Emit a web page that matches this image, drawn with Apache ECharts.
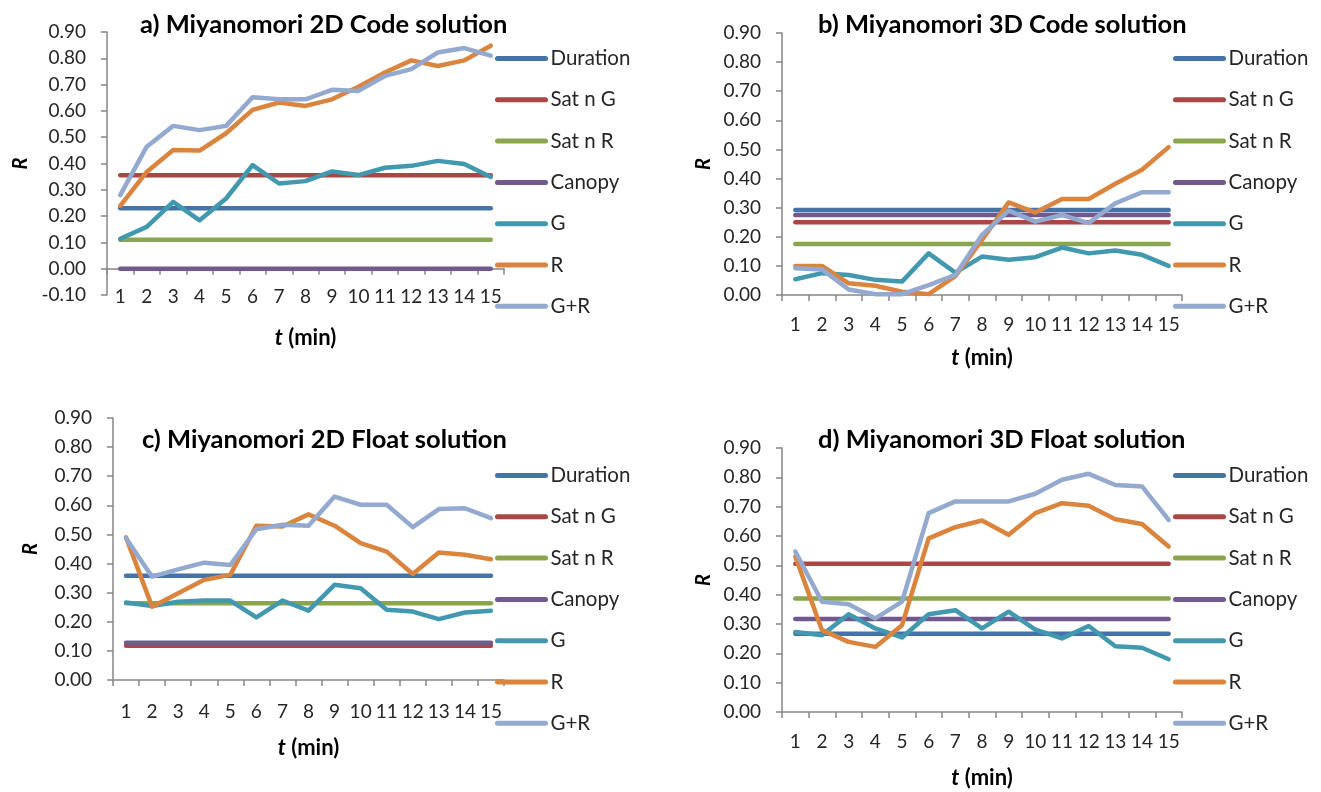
<!DOCTYPE html>
<html><head><meta charset="utf-8">
<script src="https://cdn.jsdelivr.net/npm/echarts@6/dist/echarts.min.js"></script>
<style>html,body{margin:0;padding:0;background:#fff}#c{width:1321px;height:792px}</style>
</head><body><div id="c"></div>
<script>
// ---------- data ----------
const categories = ['1','2','3','4','5','6','7','8','9','10','11','12','13','14','15'];
const seriesNames = ['Duration','Sat n G','Sat n R','Canopy','G','R','G+R'];
const panelTitles = ['a) Miyanomori 2D Code solution','b) Miyanomori 3D Code solution','c) Miyanomori 2D Float solution','d) Miyanomori 3D Float solution'];
const yAxisName = 'R';
const xAxisName = '{t|t} (min)';

// a) 2D Code
const aDuration = [0.23,0.23,0.23,0.23,0.23,0.23,0.23,0.23,0.23,0.23,0.23,0.23,0.23,0.23,0.23];
const aSatG     = [0.355,0.355,0.355,0.355,0.355,0.355,0.355,0.355,0.355,0.355,0.355,0.355,0.355,0.355,0.355];
const aSatR     = [0.11,0.11,0.11,0.11,0.11,0.11,0.11,0.11,0.11,0.11,0.11,0.11,0.11,0.11,0.11];
const aCanopy   = [0,0,0,0,0,0,0,0,0,0,0,0,0,0,0];
const aG        = [0.114,0.159,0.254,0.184,0.267,0.394,0.324,0.333,0.370,0.356,0.384,0.391,0.410,0.398,0.349];
const aR        = [0.239,0.368,0.451,0.449,0.515,0.604,0.632,0.619,0.644,0.692,0.746,0.792,0.771,0.792,0.848];
const aGR       = [0.280,0.464,0.543,0.527,0.543,0.652,0.644,0.644,0.680,0.676,0.733,0.759,0.822,0.839,0.810];

// b) 3D Code
const bDuration = [0.292,0.292,0.292,0.292,0.292,0.292,0.292,0.292,0.292,0.292,0.292,0.292,0.292,0.292,0.292];
const bSatG     = [0.25,0.25,0.25,0.25,0.25,0.25,0.25,0.25,0.25,0.25,0.25,0.25,0.25,0.25,0.25];
const bSatR     = [0.175,0.175,0.175,0.175,0.175,0.175,0.175,0.175,0.175,0.175,0.175,0.175,0.175,0.175,0.175];
const bCanopy   = [0.275,0.275,0.275,0.275,0.275,0.275,0.275,0.275,0.275,0.275,0.275,0.275,0.275,0.275,0.275];
const bG        = [0.054,0.075,0.069,0.052,0.046,0.143,0.077,0.132,0.121,0.130,0.163,0.143,0.153,0.138,0.100];
const bR        = [0.100,0.100,0.040,0.032,0.011,0.003,0.065,0.189,0.318,0.283,0.330,0.330,0.382,0.430,0.508];
const bGR       = [0.092,0.088,0.019,0.003,0.003,0.034,0.069,0.206,0.290,0.252,0.275,0.247,0.315,0.353,0.353];

// c) 2D Float
const cDuration = [0.358,0.358,0.358,0.358,0.358,0.358,0.358,0.358,0.358,0.358,0.358,0.358,0.358,0.358,0.358];
const cSatG     = [0.118,0.118,0.118,0.118,0.118,0.118,0.118,0.118,0.118,0.118,0.118,0.118,0.118,0.118,0.118];
const cSatR     = [0.264,0.264,0.264,0.264,0.264,0.264,0.264,0.264,0.264,0.264,0.264,0.264,0.264,0.264,0.264];
const cCanopy   = [0.128,0.128,0.128,0.128,0.128,0.128,0.128,0.128,0.128,0.128,0.128,0.128,0.128,0.128,0.128];
const cG        = [0.266,0.254,0.269,0.273,0.273,0.215,0.273,0.238,0.327,0.315,0.241,0.235,0.209,0.232,0.238];
const cR        = [0.490,0.252,0.298,0.344,0.361,0.530,0.527,0.569,0.530,0.470,0.441,0.364,0.438,0.430,0.415];
const cGR       = [0.487,0.355,0.380,0.403,0.395,0.518,0.533,0.530,0.630,0.602,0.602,0.525,0.587,0.590,0.556];

// d) 3D Float
const dDuration = [0.267,0.267,0.267,0.267,0.267,0.267,0.267,0.267,0.267,0.267,0.267,0.267,0.267,0.267,0.267];
const dSatG     = [0.505,0.505,0.505,0.505,0.505,0.505,0.505,0.505,0.505,0.505,0.505,0.505,0.505,0.505,0.505];
const dSatR     = [0.387,0.387,0.387,0.387,0.387,0.387,0.387,0.387,0.387,0.387,0.387,0.387,0.387,0.387,0.387];
const dCanopy   = [0.317,0.317,0.317,0.317,0.317,0.317,0.317,0.317,0.317,0.317,0.317,0.317,0.317,0.317,0.317];
const dG        = [0.273,0.262,0.333,0.285,0.254,0.333,0.347,0.285,0.342,0.281,0.251,0.293,0.224,0.219,0.180];
const dR        = [0.530,0.279,0.239,0.222,0.296,0.592,0.630,0.653,0.604,0.678,0.712,0.703,0.657,0.641,0.564];
const dGR       = [0.547,0.376,0.367,0.319,0.376,0.678,0.718,0.718,0.718,0.744,0.792,0.812,0.774,0.769,0.655];

// ---------- styles / layout ----------
const COLORS = ['#4572A7','#AA4643','#89A54E','#71588F','#4198AF','#DB843D','#93A9CF'];
const FONT = 'Lato, "Open Sans", sans-serif';
const TXT = '#262626';
const AXC = '#868686';

const panels = [
  {data:[aDuration,aSatG,aSatR,aCanopy,aG,aR,aGR], min:-0.1, max:0.9,
   grid:{left:107,top:32,width:397,height:263}, title:[140,12], legend:[495,48], lm:2, xg:32, yg:76, zeroOverlay:true},
  {data:[bDuration,bSatG,bSatR,bCanopy,bG,bR,bGR], min:0, max:0.9,
   grid:{left:782,top:33,width:400,height:262}, title:[818,12], legend:[1173,48], lm:30, xg:52, yg:68},
  {data:[cDuration,cSatG,cSatR,cCanopy,cG,cR,cGR], min:0, max:0.9,
   grid:{left:113,top:418,width:391,height:262}, title:[142,427], legend:[495,465], lm:32, xg:57, yg:72},
  {data:[dDuration,dSatG,dSatR,dCanopy,dG,dR,dGR], min:0, max:0.9,
   grid:{left:782,top:448,width:400,height:264}, title:[818,427], legend:[1173,465], lm:30, xg:55, yg:68}
];

const fmt = v => (Math.abs(v) < 1e-9 ? 0 : v).toFixed(2);

const option = {
  animation:false,
  backgroundColor:'#fff',
  textStyle:{fontFamily:FONT},
  title:[], grid:[], xAxis:[], yAxis:[], legend:[], series:[]
};

panels.forEach((p, i) => {
  option.title.push({text:panelTitles[i], left:p.title[0], top:p.title[1], padding:0,
    textStyle:{fontFamily:FONT, fontWeight:'bold', fontSize:25.5, lineHeight:26, color:'#000'}});
  option.grid.push(Object.assign({containLabel:false}, p.grid));
  option.xAxis.push({
    type:'category', gridIndex:i, data:categories, boundaryGap:true,
    axisLine:{show:!p.zeroOverlay, onZero:false, lineStyle:{color:AXC, width:1.5}},
    axisTick:{show:!p.zeroOverlay, length:6, lineStyle:{color:AXC, width:1.5}},
    axisLabel:{margin:p.lm, verticalAlign:'middle', fontSize:19, color:TXT, fontFamily:FONT, interval:0},
    splitLine:{show:false},
    name:xAxisName, nameLocation:'middle', nameGap:p.xg,
    nameTextStyle:{fontFamily:FONT, fontWeight:'bold', fontSize:22, color:'#000', verticalAlign:'top',
      rich:{t:{fontStyle:'italic', fontWeight:'bold', fontSize:22, fontFamily:FONT, color:'#000'}}}
  });
  option.yAxis.push({
    type:'value', gridIndex:i, min:p.min, max:p.max, interval:0.1,
    axisLine:{show:true, lineStyle:{color:AXC, width:1.5}},
    axisTick:{show:true, length:6, lineStyle:{color:AXC, width:1.5}},
    axisLabel:{margin:21, fontSize:19, color:TXT, fontFamily:FONT, formatter:fmt},
    splitLine:{show:false},
    name:yAxisName, nameLocation:'middle', nameGap:p.yg, nameRotate:90,
    nameTextStyle:{fontFamily:FONT, fontStyle:'italic', fontWeight:'bold', fontSize:20, color:'#000'}
  });
  option.legend.push({
    orient:'vertical', left:p.legend[0], top:p.legend[1], padding:0,
    itemWidth:48, itemHeight:10, itemGap:20.3, selectedMode:false,
    data:seriesNames,
    lineStyle:{width:5, cap:'round'},
    itemStyle:{color:'rgba(0,0,0,0)', borderColor:'rgba(0,0,0,0)', borderWidth:0},
    textStyle:{fontFamily:FONT, fontSize:20.5, color:TXT, lineHeight:20}
  });
  p.data.forEach((arr, k) => {
    option.series.push({
      name:seriesNames[k], type:'line', xAxisIndex:i, yAxisIndex:i, data:arr,
      symbol:'none', smooth:false,
      lineStyle:{width:4.5, color:COLORS[k], cap:'round', join:'round'},
      itemStyle:{color:COLORS[k]}
    });
  });
});

// zero-crossing horizontal axis for panel a (labels stay at bottom)
panels.forEach((p, i) => {
  if (!p.zeroOverlay) return;
  const gi = option.grid.length;
  option.grid.push(Object.assign({containLabel:false}, p.grid));
  option.xAxis.push({
    type:'category', gridIndex:gi, data:categories, boundaryGap:true,
    axisLine:{show:true, onZero:true, lineStyle:{color:AXC, width:1.5}},
    axisTick:{show:true, length:6, lineStyle:{color:AXC, width:1.5}},
    axisLabel:{show:false}, splitLine:{show:false}
  });
  option.yAxis.push({type:'value', gridIndex:gi, min:p.min, max:p.max, interval:0.1, show:false});
});

const chart = echarts.init(document.getElementById('c'), null, {renderer:'canvas'});
chart.setOption(option);
</script>
</body></html>
